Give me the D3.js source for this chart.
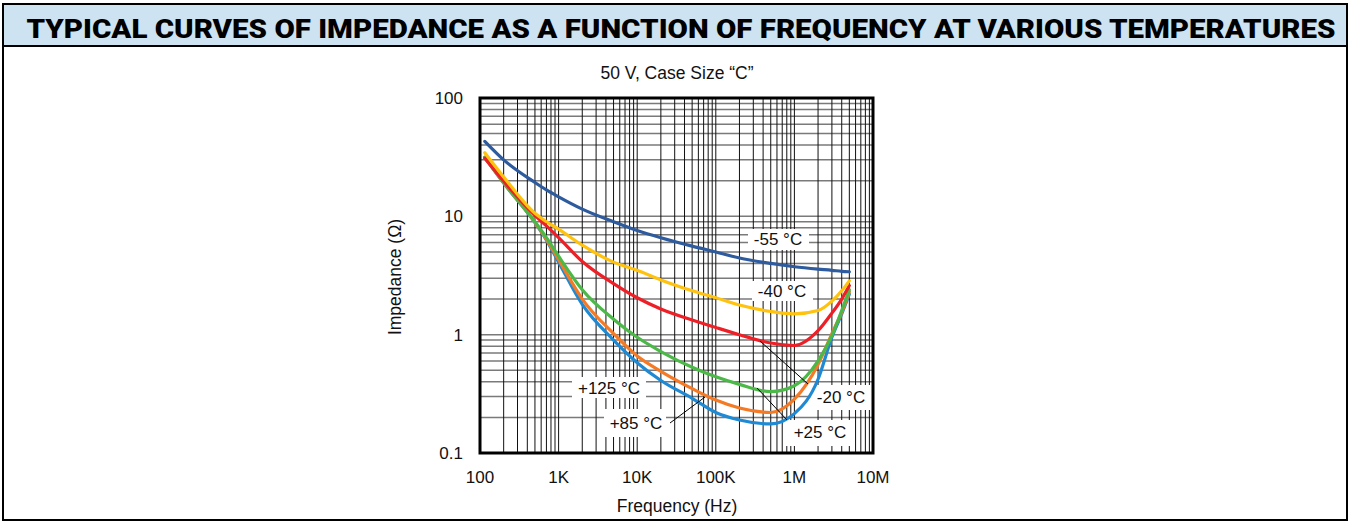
<!DOCTYPE html>
<html><head><meta charset="utf-8">
<script src="https://cdn.jsdelivr.net/npm/d3@7"></script>
<style>
html,body{margin:0;padding:0;background:#fff;}
svg{display:block;}
text{font-family:"Liberation Sans",Arial,sans-serif;}
</style></head>
<body>
<svg id="chart" width="1351" height="523"></svg>
<script>
const title = "TYPICAL CURVES OF IMPEDANCE AS A FUNCTION OF FREQUENCY AT VARIOUS TEMPERATURES";
const subtitle = "50 V, Case Size \u201CC\u201D";
const xTickValues = [100, 1e3, 1e4, 1e5, 1e6, 1e7];
const xTickLabels = ["100", "1K", "10K", "100K", "1M", "10M"];
const yTickValues = [0.1, 1, 10, 100];
const yTickLabels = ["0.1", "1", "10", "100"];
const freq = [115, 200, 500, 700, 1e3, 2e3, 5e3, 1e4, 2e4, 5e4, 1e5, 2e5, 5e5, 1e6, 2e6, 3e6, 4e6, 5e6];
const seriesNames = ["+125 \u00B0C", "+85 \u00B0C", "+25 \u00B0C", "-20 \u00B0C", "-40 \u00B0C", "-55 \u00B0C"];
const zP125 = [31.5, 19.1, 8.85, 6.3, 4.1, 1.8, 0.9, 0.58, 0.41, 0.29, 0.22, 0.19, 0.176, 0.215, 0.42, 0.95, 1.5, 2.2];
const zP85  = [31.5, 19.2, 8.9, 6.4, 4.3, 2.0, 1.02, 0.66, 0.49, 0.35, 0.28, 0.24, 0.22, 0.285, 0.56, 1.02, 1.55, 2.3];
const zP25  = [31.5, 19.3, 9.0, 6.6, 4.6, 2.4, 1.35, 0.95, 0.72, 0.53, 0.44, 0.38, 0.33, 0.37, 0.6, 0.98, 1.6, 2.4];
const zM20  = [31, 19.8, 10.2, 8.3, 6.6, 4.15, 2.7, 2.05, 1.65, 1.33, 1.15, 1.0, 0.85, 0.81, 1.08, 1.52, 2.0, 2.6];
const zM40  = [34.5, 21.5, 10.6, 9.0, 7.8, 5.7, 4.1, 3.5, 2.9, 2.35, 2.05, 1.78, 1.57, 1.5, 1.6, 1.92, 2.35, 2.85];
const zM55  = [43, 30, 19.3, 16.7, 14.6, 11.5, 9.0, 7.6, 6.6, 5.6, 5.0, 4.45, 4.0, 3.75, 3.58, 3.5, 3.43, 3.4];
const seriesColors = ["#1f8ad3", "#f47a26", "#4cb848", "#ee1f26", "#ffc20e", "#2d5b9e"];

const svg = d3.select("#chart");
const W = 1351, H = 523;

// outer frame and header
svg.append("rect").attr("x", 3).attr("y", 4).attr("width", W - 7).attr("height", H - 7)
  .attr("fill", "#fff").attr("stroke", "#000").attr("stroke-width", 2);
svg.append("rect").attr("x", 3).attr("y", 4).attr("width", W - 7).attr("height", 42)
  .attr("fill", "#cde3f1").attr("stroke", "#000").attr("stroke-width", 2);
svg.append("text").attr("x", 681).attr("y", 38).attr("text-anchor", "middle")
  .attr("font-weight", 900)
  .attr("font-size", 26).attr("textLength", 1309).attr("lengthAdjust", "spacingAndGlyphs")
  .style("font-family", "Roboto, Inter, 'Liberation Sans', sans-serif")
  .text(title);

const m = {l: 480, r: 873, t: 98, b: 453};
const x = d3.scaleLog().domain([100, 1e7]).range([m.l, m.r]);
const y = d3.scaleLog().domain([0.1, 100]).range([m.b, m.t]);

svg.append("text").attr("x", 677).attr("y", 79).attr("text-anchor", "middle")
  .attr("font-size", 17.5).attr("fill", "#111").text(subtitle);

// grid
const g = svg.append("g");
g.selectAll(".hg").data(y.ticks()).join("line")
  .attr("x1", m.l).attr("x2", m.r).attr("y1", d => y(d)).attr("y2", d => y(d))
  .attr("stroke", "#7a7a7a").attr("stroke-width", 1.5);
g.selectAll(".vg").data(x.ticks()).join("line")
  .attr("y1", m.t).attr("y2", m.b).attr("x1", d => x(d)).attr("x2", d => x(d))
  .attr("stroke", "#111").attr("stroke-width", 1);

// label boxes
const labels = [
  {t: "-55 \u00B0C", cx: 778, cy: 239, bx: 748, by: 229, bw: 61, bh: 21},
  {t: "-40 \u00B0C", cx: 782, cy: 291, bx: 752, by: 281, bw: 61, bh: 20},
  {t: "+125 \u00B0C", cx: 609, cy: 388, bx: 572, by: 377, bw: 74, bh: 21},
  {t: "+85 \u00B0C", cx: 636, cy: 423, bx: 604, by: 409, bw: 62, bh: 28},
  {t: "-20 \u00B0C", cx: 841, cy: 397, bx: 811, by: 385, bw: 61, bh: 25},
  {t: "+25 \u00B0C", cx: 820, cy: 432, bx: 786, by: 420, bw: 66, bh: 26}
];
svg.selectAll(".lb").data(labels).join("rect")
  .attr("x", d => d.bx).attr("y", d => d.by).attr("width", d => d.bw).attr("height", d => d.bh)
  .attr("fill", "#fff");

// curves
const allSeries = [zP125, zP85, zP25, zM20, zM40, zM55];
const line = d3.line().x(d => x(d[0])).y(d => y(d[1])).curve(d3.curveMonotoneX);
svg.selectAll(".curve").data(allSeries).join("path")
  .attr("d", s => line(freq.map((f, i) => [f, s[i]])))
  .attr("fill", "none").attr("stroke", (s, i) => seriesColors[i])
  .attr("stroke-width", 3.2).attr("stroke-linecap", "round");

// leader lines
const leaders = [[760, 341, 808, 384], [757, 388, 787, 420], [670, 423, 705, 397]];
svg.selectAll(".ld").data(leaders).join("line")
  .attr("x1", d => d[0]).attr("y1", d => d[1]).attr("x2", d => d[2]).attr("y2", d => d[3])
  .attr("stroke", "#000").attr("stroke-width", 1);

svg.selectAll(".lt").data(labels).join("text")
  .attr("x", d => d.cx).attr("y", d => d.cy + 6).attr("text-anchor", "middle")
  .attr("font-size", 17).attr("fill", "#111").text(d => d.t);

// frame
svg.append("rect").attr("x", m.l).attr("y", m.t).attr("width", m.r - m.l).attr("height", m.b - m.t)
  .attr("fill", "none").attr("stroke", "#000").attr("stroke-width", 3);

// tick labels
svg.selectAll(".xt").data(xTickValues).join("text")
  .attr("x", d => x(d)).attr("y", 483).attr("text-anchor", "middle")
  .attr("font-size", 17).attr("fill", "#111").text((d, i) => xTickLabels[i]);
svg.selectAll(".yt").data(yTickValues).join("text")
  .attr("x", 463).attr("y", d => y(d) + 6).attr("text-anchor", "end")
  .attr("font-size", 17).attr("fill", "#111").text((d, i) => yTickLabels[i]);

svg.append("text").attr("x", 677).attr("y", 512).attr("text-anchor", "middle")
  .attr("font-size", 17.5).attr("fill", "#111").text("Frequency (Hz)");
svg.append("text").attr("transform", "translate(401,277) rotate(-90)").attr("text-anchor", "middle")
  .attr("font-size", 17.5).attr("fill", "#111").text("Impedance (\u03A9)");
</script>
</body></html>
